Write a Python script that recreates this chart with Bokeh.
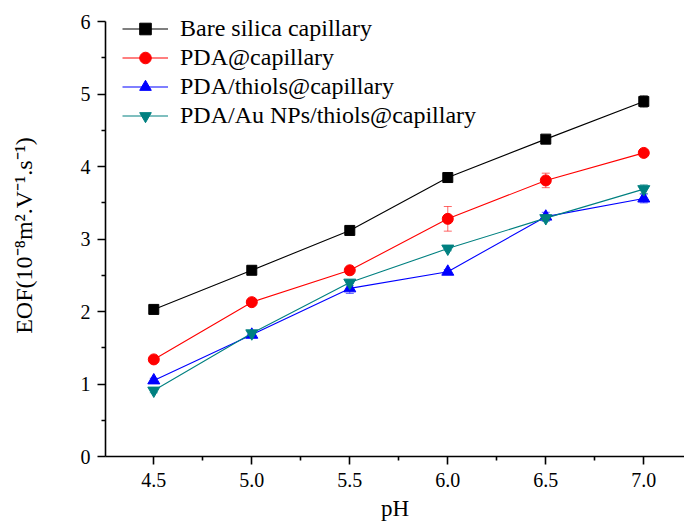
from bokeh.plotting import figure
from bokeh.models import ColumnDataSource, Whisker, TeeHead, Range1d, Legend, LegendItem, FixedTicker
from bokeh.embed import file_html
from bokeh.resources import INLINE

ph = [4.5, 5.0, 5.5, 6.0, 6.5, 7.0]
names = ["Bare silica capillary", "PDA@capillary", "PDA/thiols@capillary", "PDA/Au NPs/thiols@capillary"]
bare = [2.03, 2.57, 3.12, 3.85, 4.38, 4.90]
bare_err = [0.02, 0.03, 0.03, 0.03, 0.03, 0.08]
pda = [1.34, 2.13, 2.57, 3.28, 3.81, 4.19]
pda_err = [0.02, 0.03, 0.05, 0.17, 0.10, 0.03]
thiol = [1.05, 1.68, 2.32, 2.55, 3.31, 3.56]
thiol_err = [0.03, 0.04, 0.07, 0.03, 0.06, 0.06]
aunp = [0.91, 1.70, 2.40, 2.87, 3.29, 3.69]
aunp_err = [0.03, 0.03, 0.04, 0.03, 0.04, 0.06]

colors = ["#000000", "#ff0000", "#0000ff", "#008080"]
markers = ["square", "circle", "triangle", "inverted_triangle"]
sizes = [10, 11, 12, 12]
series = [bare, pda, thiol, aunp]
errs = [bare_err, pda_err, thiol_err, aunp_err]

FONT = "Liberation Serif"

p = figure(width=684, height=525, output_backend="svg", toolbar_location=None,
           x_range=Range1d(4.2536, 7.2077), y_range=Range1d(0, 6.1),
           min_border_left=105, min_border_top=14, min_border_right=0, min_border_bottom=69)
p.outline_line_color = None
p.xgrid.visible = False
p.ygrid.visible = False

items = []
for ys, es, c, m, s, n in zip(series, errs, colors, markers, sizes, names):
    src = ColumnDataSource(dict(x=ph, y=ys, lo=[a - b for a, b in zip(ys, es)], hi=[a + b for a, b in zip(ys, es)]))
    w = Whisker(base="x", upper="hi", lower="lo", source=src, line_color=c, line_alpha=0.6, line_width=1,
                upper_head=TeeHead(size=8, line_color=c, line_alpha=0.6),
                lower_head=TeeHead(size=8, line_color=c, line_alpha=0.6))
    p.add_layout(w)
    l = p.line("x", "y", source=src, line_color=c, line_width=1.1)
    sc = p.scatter("x", "y", source=src, marker=m, size=s, fill_color=c, line_color=c)
    items.append(LegendItem(label=n, renderers=[l, sc]))

legend = Legend(items=items, location=(17, 326), border_line_color=None, background_fill_alpha=0,
                padding=0, spacing=0, margin=0, label_height=29, glyph_height=29, glyph_width=46,
                label_standoff=12, label_text_font=FONT, label_text_font_size="24px",
                label_text_color="#000000")
p.add_layout(legend)

p.xaxis.ticker = FixedTicker(ticks=ph, minor_ticks=[4.25, 4.75, 5.25, 5.75, 6.25, 6.75, 7.25])
p.yaxis.ticker = FixedTicker(ticks=[0, 1, 2, 3, 4, 5, 6], minor_ticks=[0.5, 1.5, 2.5, 3.5, 4.5, 5.5])
p.yaxis.bounds = (0, 6)
p.xaxis.major_label_overrides = {v: f"{v:.1f}" for v in ph}

for ax in (p.xaxis, p.yaxis):
    ax.axis_line_width = 1.6
    ax.major_tick_line_width = 1.6
    ax.minor_tick_line_width = 1.6
    ax.major_tick_out = 8
    ax.major_tick_in = 0
    ax.minor_tick_out = 4
    ax.minor_tick_in = 0
    ax.major_label_text_font = FONT
    ax.major_label_text_font_size = "20px"
    ax.major_label_text_color = "#000000"
    ax.axis_label_text_font = FONT
    ax.axis_label_text_font_style = "normal"
    ax.axis_label_text_color = "#000000"

p.xaxis.axis_label = "pH"
p.yaxis.axis_label = "EOF(10\u207b\u2078m\u00b2.V\u207b\u00b9.s\u207b\u00b9)"
p.xaxis.axis_label_text_font_size = "23px"
p.yaxis.axis_label_text_font_size = "24px"
p.xaxis.major_label_standoff = 8
p.xaxis.axis_label_standoff = 6
p.yaxis.major_label_standoff = 7
p.yaxis.axis_label_standoff = 41

open("out.html", "w").write(file_html(p, INLINE))
